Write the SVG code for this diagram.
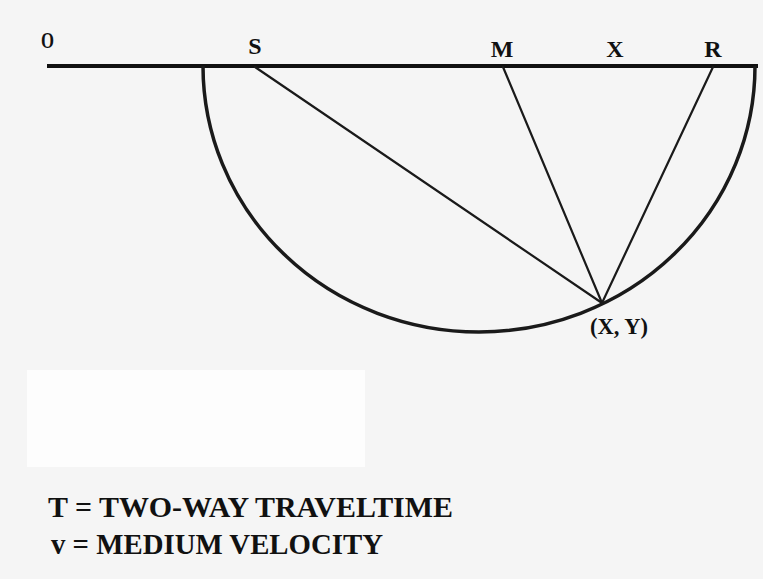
<svg xmlns="http://www.w3.org/2000/svg" width="763" height="579" viewBox="0 0 763 579">
<style>
.lbl{font-family:"Liberation Serif","Times New Roman",serif;font-weight:bold;fill:#111;}
.ray{stroke:#1a1a1a;stroke-width:2.2;fill:none;stroke-linecap:round;}
</style>
<rect x="0" y="0" width="763" height="579" fill="#f5f5f5"/>
<rect x="27" y="370" width="338" height="97" fill="#fdfdfd"/>
<g id="surface">
<line x1="47" y1="66" x2="758" y2="66" stroke="#111" stroke-width="4"/>
</g>
<g id="ellipse">
<path d="M203 66 A276 266 0 0 0 755 66" fill="none" stroke="#1a1a1a" stroke-width="3.5"/>
</g>
<g id="connectors">
<line class="ray" x1="255" y1="67" x2="602" y2="303"/>
<line class="ray" x1="503" y1="67" x2="602" y2="303"/>
<line class="ray" x1="713" y1="67" x2="602" y2="303"/>
</g>
<g id="labels">
<text id="O" class="lbl" x="41" y="48" font-size="24" textLength="13" lengthAdjust="spacingAndGlyphs">O</text>
<text id="S" class="lbl" x="255" y="54" font-size="24" text-anchor="middle">S</text>
<text id="M" class="lbl" x="502" y="57" font-size="24" text-anchor="middle">M</text>
<text id="X" class="lbl" x="615" y="57" font-size="24" text-anchor="middle">X</text>
<text id="R" class="lbl" x="713" y="57" font-size="24" text-anchor="middle">R</text>
<text id="XY" class="lbl" x="590" y="334" font-size="23" font-weight="normal" textLength="58" lengthAdjust="spacingAndGlyphs">(X, Y)</text>
</g>
<g id="legend">
<text class="lbl" x="48" y="517" font-size="30" textLength="405" lengthAdjust="spacingAndGlyphs">T = TWO-WAY TRAVELTIME</text>
<text class="lbl" x="51" y="554" font-size="30" textLength="332" lengthAdjust="spacingAndGlyphs">v = MEDIUM VELOCITY</text>
</g>
</svg>
